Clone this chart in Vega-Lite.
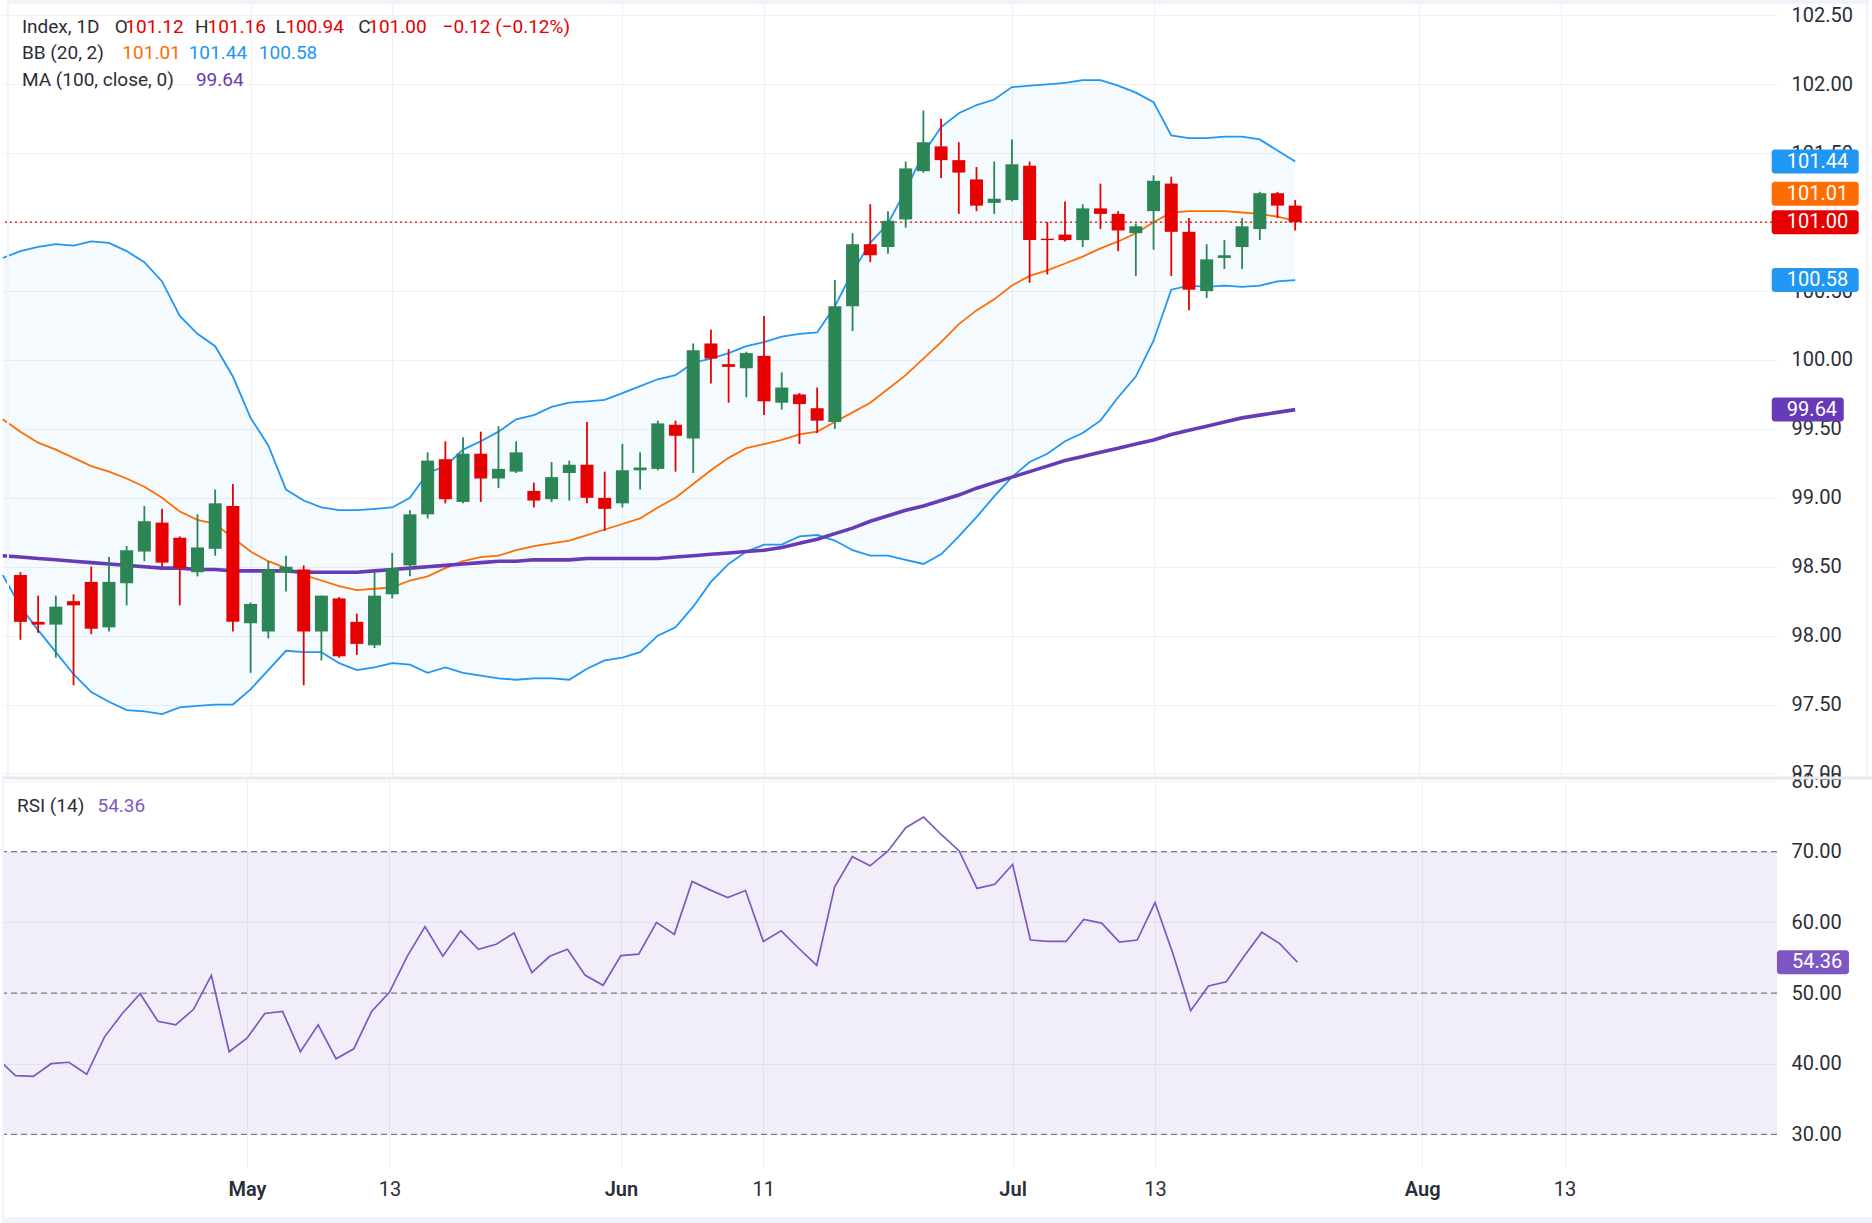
{
"$schema": "https://vega.github.io/schema/vega-lite/v6.json",
"background": "#ffffff",
"padding": 0,
"spacing": 0,
"bounds": "flush",
"config": {
  "view": {"stroke": null},
  "font": "Roboto",
  "axis": {"gridColor": "#eef0f4", "gridWidth": 1, "labelColor": "#2a2e39", "labelFont": "Roboto", "labelFontSize": 20, "ticks": false, "domain": false, "title": null, "labelOverlap": false, "labelFlush": false}
},
"datasets": {
  "bars": [
    {"i":0,"o":98.44,"h":98.46,"l":97.97,"c":98.10},
    {"i":1,"o":98.10,"h":98.29,"l":98.02,"c":98.08},
    {"i":2,"o":98.08,"h":98.29,"l":97.84,"c":98.21},
    {"i":3,"o":98.25,"h":98.30,"l":97.64,"c":98.22},
    {"i":4,"o":98.39,"h":98.50,"l":98.01,"c":98.05},
    {"i":5,"o":98.06,"h":98.57,"l":98.03,"c":98.39},
    {"i":6,"o":98.38,"h":98.65,"l":98.22,"c":98.62},
    {"i":7,"o":98.61,"h":98.94,"l":98.54,"c":98.83},
    {"i":8,"o":98.82,"h":98.92,"l":98.50,"c":98.53},
    {"i":9,"o":98.71,"h":98.72,"l":98.22,"c":98.49},
    {"i":10,"o":98.46,"h":98.88,"l":98.43,"c":98.64},
    {"i":11,"o":98.63,"h":99.06,"l":98.58,"c":98.96},
    {"i":12,"o":98.94,"h":99.10,"l":98.03,"c":98.10},
    {"i":13,"o":98.09,"h":98.24,"l":97.73,"c":98.23},
    {"i":14,"o":98.03,"h":98.54,"l":97.98,"c":98.48},
    {"i":15,"o":98.46,"h":98.58,"l":98.32,"c":98.50},
    {"i":16,"o":98.48,"h":98.51,"l":97.64,"c":98.03},
    {"i":17,"o":98.03,"h":98.29,"l":97.82,"c":98.29},
    {"i":18,"o":98.27,"h":98.28,"l":97.84,"c":97.85},
    {"i":19,"o":98.10,"h":98.16,"l":97.86,"c":97.94},
    {"i":20,"o":97.93,"h":98.46,"l":97.91,"c":98.29},
    {"i":21,"o":98.30,"h":98.60,"l":98.27,"c":98.49},
    {"i":22,"o":98.51,"h":98.91,"l":98.43,"c":98.88},
    {"i":23,"o":98.88,"h":99.33,"l":98.85,"c":99.27},
    {"i":24,"o":99.28,"h":99.41,"l":98.96,"c":98.99},
    {"i":25,"o":98.97,"h":99.44,"l":98.96,"c":99.32},
    {"i":26,"o":99.32,"h":99.48,"l":98.97,"c":99.14},
    {"i":27,"o":99.14,"h":99.52,"l":99.07,"c":99.21},
    {"i":28,"o":99.19,"h":99.41,"l":99.18,"c":99.33},
    {"i":29,"o":99.05,"h":99.11,"l":98.93,"c":98.98},
    {"i":30,"o":98.99,"h":99.26,"l":98.97,"c":99.15},
    {"i":31,"o":99.18,"h":99.27,"l":98.98,"c":99.24},
    {"i":32,"o":99.24,"h":99.55,"l":98.96,"c":99.00},
    {"i":33,"o":99.00,"h":99.19,"l":98.76,"c":98.92},
    {"i":34,"o":98.96,"h":99.39,"l":98.93,"c":99.20},
    {"i":35,"o":99.20,"h":99.33,"l":99.06,"c":99.22},
    {"i":36,"o":99.21,"h":99.56,"l":99.20,"c":99.54},
    {"i":37,"o":99.53,"h":99.56,"l":99.19,"c":99.45},
    {"i":38,"o":99.43,"h":100.12,"l":99.18,"c":100.07},
    {"i":39,"o":100.12,"h":100.22,"l":99.83,"c":100.01},
    {"i":40,"o":99.97,"h":100.08,"l":99.69,"c":99.95},
    {"i":41,"o":99.94,"h":100.06,"l":99.73,"c":100.05},
    {"i":42,"o":100.03,"h":100.32,"l":99.60,"c":99.70},
    {"i":43,"o":99.69,"h":99.91,"l":99.64,"c":99.80},
    {"i":44,"o":99.75,"h":99.76,"l":99.39,"c":99.68},
    {"i":45,"o":99.65,"h":99.80,"l":99.47,"c":99.56},
    {"i":46,"o":99.55,"h":100.58,"l":99.50,"c":100.39},
    {"i":47,"o":100.39,"h":100.92,"l":100.21,"c":100.84},
    {"i":48,"o":100.84,"h":101.13,"l":100.71,"c":100.76},
    {"i":49,"o":100.82,"h":101.08,"l":100.77,"c":101.01},
    {"i":50,"o":101.02,"h":101.44,"l":100.96,"c":101.39},
    {"i":51,"o":101.37,"h":101.81,"l":101.36,"c":101.58},
    {"i":52,"o":101.55,"h":101.75,"l":101.32,"c":101.45},
    {"i":53,"o":101.45,"h":101.58,"l":101.06,"c":101.36},
    {"i":54,"o":101.31,"h":101.40,"l":101.08,"c":101.12},
    {"i":55,"o":101.14,"h":101.44,"l":101.06,"c":101.17},
    {"i":56,"o":101.16,"h":101.60,"l":101.15,"c":101.42},
    {"i":57,"o":101.41,"h":101.44,"l":100.56,"c":100.87},
    {"i":58,"o":100.88,"h":101.00,"l":100.62,"c":100.87},
    {"i":59,"o":100.91,"h":101.15,"l":100.86,"c":100.87},
    {"i":60,"o":100.87,"h":101.13,"l":100.82,"c":101.10},
    {"i":61,"o":101.10,"h":101.28,"l":100.95,"c":101.06},
    {"i":62,"o":101.06,"h":101.08,"l":100.79,"c":100.94},
    {"i":63,"o":100.92,"h":100.99,"l":100.61,"c":100.97},
    {"i":64,"o":101.08,"h":101.34,"l":100.80,"c":101.30},
    {"i":65,"o":101.28,"h":101.33,"l":100.61,"c":100.93},
    {"i":66,"o":100.93,"h":101.03,"l":100.36,"c":100.51},
    {"i":67,"o":100.50,"h":100.84,"l":100.45,"c":100.73},
    {"i":68,"o":100.74,"h":100.87,"l":100.66,"c":100.76},
    {"i":69,"o":100.82,"h":101.03,"l":100.66,"c":100.97},
    {"i":70,"o":100.95,"h":101.22,"l":100.87,"c":101.21},
    {"i":71,"o":101.21,"h":101.22,"l":101.03,"c":101.12},
    {"i":72,"o":101.12,"h":101.16,"l":100.94,"c":101.00}
  ],
  "ind": [
    {"i":-1,"up":100.74,"mid":99.57,"lo":98.44,"ma":98.58,"rsi":40.7},
    {"i":0,"up":100.79,"mid":99.48,"lo":98.21,"ma":98.57,"rsi":38.3},
    {"i":1,"up":100.82,"mid":99.40,"lo":98.04,"ma":98.56,"rsi":38.2},
    {"i":2,"up":100.84,"mid":99.35,"lo":97.88,"ma":98.55,"rsi":40.0},
    {"i":3,"up":100.83,"mid":99.29,"lo":97.72,"ma":98.54,"rsi":40.2},
    {"i":4,"up":100.86,"mid":99.23,"lo":97.59,"ma":98.53,"rsi":38.5},
    {"i":5,"up":100.85,"mid":99.19,"lo":97.52,"ma":98.52,"rsi":43.8},
    {"i":6,"up":100.79,"mid":99.14,"lo":97.46,"ma":98.51,"rsi":47.1},
    {"i":7,"up":100.71,"mid":99.08,"lo":97.45,"ma":98.50,"rsi":49.9},
    {"i":8,"up":100.57,"mid":99.00,"lo":97.43,"ma":98.49,"rsi":46.0},
    {"i":9,"up":100.32,"mid":98.90,"lo":97.48,"ma":98.49,"rsi":45.5},
    {"i":10,"up":100.19,"mid":98.84,"lo":97.49,"ma":98.48,"rsi":47.7},
    {"i":11,"up":100.10,"mid":98.81,"lo":97.50,"ma":98.48,"rsi":52.5},
    {"i":12,"up":99.88,"mid":98.71,"lo":97.50,"ma":98.47,"rsi":41.7},
    {"i":13,"up":99.58,"mid":98.61,"lo":97.61,"ma":98.47,"rsi":43.6},
    {"i":14,"up":99.38,"mid":98.54,"lo":97.75,"ma":98.47,"rsi":47.1},
    {"i":15,"up":99.06,"mid":98.49,"lo":97.89,"ma":98.47,"rsi":47.4},
    {"i":16,"up":98.98,"mid":98.44,"lo":97.88,"ma":98.46,"rsi":41.7},
    {"i":17,"up":98.93,"mid":98.40,"lo":97.88,"ma":98.46,"rsi":45.5},
    {"i":18,"up":98.91,"mid":98.36,"lo":97.80,"ma":98.46,"rsi":40.7},
    {"i":19,"up":98.91,"mid":98.33,"lo":97.75,"ma":98.46,"rsi":42.1},
    {"i":20,"up":98.92,"mid":98.34,"lo":97.77,"ma":98.47,"rsi":47.4},
    {"i":21,"up":98.93,"mid":98.35,"lo":97.80,"ma":98.48,"rsi":50.1},
    {"i":22,"up":99.00,"mid":98.40,"lo":97.79,"ma":98.49,"rsi":55.2},
    {"i":23,"up":99.18,"mid":98.43,"lo":97.73,"ma":98.50,"rsi":59.4},
    {"i":24,"up":99.23,"mid":98.49,"lo":97.77,"ma":98.51,"rsi":55.2},
    {"i":25,"up":99.35,"mid":98.54,"lo":97.73,"ma":98.52,"rsi":58.8},
    {"i":26,"up":99.41,"mid":98.57,"lo":97.71,"ma":98.53,"rsi":56.2},
    {"i":27,"up":99.48,"mid":98.58,"lo":97.69,"ma":98.54,"rsi":56.9},
    {"i":28,"up":99.57,"mid":98.62,"lo":97.68,"ma":98.54,"rsi":58.5},
    {"i":29,"up":99.60,"mid":98.65,"lo":97.69,"ma":98.55,"rsi":52.9},
    {"i":30,"up":99.66,"mid":98.67,"lo":97.69,"ma":98.55,"rsi":55.2},
    {"i":31,"up":99.69,"mid":98.69,"lo":97.68,"ma":98.55,"rsi":56.2},
    {"i":32,"up":99.70,"mid":98.73,"lo":97.76,"ma":98.56,"rsi":52.5},
    {"i":33,"up":99.71,"mid":98.77,"lo":97.82,"ma":98.56,"rsi":51.1},
    {"i":34,"up":99.76,"mid":98.81,"lo":97.84,"ma":98.56,"rsi":55.3},
    {"i":35,"up":99.81,"mid":98.85,"lo":97.88,"ma":98.56,"rsi":55.5},
    {"i":36,"up":99.86,"mid":98.93,"lo":98.00,"ma":98.56,"rsi":60.0},
    {"i":37,"up":99.89,"mid":99.00,"lo":98.06,"ma":98.57,"rsi":58.3},
    {"i":38,"up":99.98,"mid":99.10,"lo":98.21,"ma":98.58,"rsi":65.8},
    {"i":39,"up":100.01,"mid":99.20,"lo":98.39,"ma":98.59,"rsi":64.6},
    {"i":40,"up":100.05,"mid":99.29,"lo":98.52,"ma":98.60,"rsi":63.5},
    {"i":41,"up":100.10,"mid":99.36,"lo":98.61,"ma":98.61,"rsi":64.5},
    {"i":42,"up":100.13,"mid":99.39,"lo":98.66,"ma":98.62,"rsi":57.3},
    {"i":43,"up":100.17,"mid":99.42,"lo":98.66,"ma":98.64,"rsi":58.8},
    {"i":44,"up":100.19,"mid":99.46,"lo":98.72,"ma":98.67,"rsi":56.3},
    {"i":45,"up":100.20,"mid":99.48,"lo":98.73,"ma":98.70,"rsi":53.9},
    {"i":46,"up":100.39,"mid":99.55,"lo":98.69,"ma":98.74,"rsi":65.0},
    {"i":47,"up":100.64,"mid":99.62,"lo":98.62,"ma":98.78,"rsi":69.3},
    {"i":48,"up":100.85,"mid":99.69,"lo":98.58,"ma":98.83,"rsi":68.0},
    {"i":49,"up":100.99,"mid":99.79,"lo":98.58,"ma":98.87,"rsi":70.1},
    {"i":50,"up":101.23,"mid":99.89,"lo":98.55,"ma":98.91,"rsi":73.4},
    {"i":51,"up":101.50,"mid":100.01,"lo":98.52,"ma":98.94,"rsi":74.9},
    {"i":52,"up":101.69,"mid":100.13,"lo":98.59,"ma":98.98,"rsi":72.4},
    {"i":53,"up":101.79,"mid":100.26,"lo":98.72,"ma":99.02,"rsi":70.1},
    {"i":54,"up":101.85,"mid":100.36,"lo":98.86,"ma":99.07,"rsi":64.8},
    {"i":55,"up":101.89,"mid":100.44,"lo":99.01,"ma":99.11,"rsi":65.4},
    {"i":56,"up":101.98,"mid":100.54,"lo":99.15,"ma":99.15,"rsi":68.2},
    {"i":57,"up":101.99,"mid":100.61,"lo":99.26,"ma":99.19,"rsi":57.5},
    {"i":58,"up":102.00,"mid":100.65,"lo":99.32,"ma":99.23,"rsi":57.3},
    {"i":59,"up":102.01,"mid":100.70,"lo":99.41,"ma":99.27,"rsi":57.3},
    {"i":60,"up":102.03,"mid":100.75,"lo":99.47,"ma":99.30,"rsi":60.4},
    {"i":61,"up":102.03,"mid":100.81,"lo":99.56,"ma":99.33,"rsi":59.9},
    {"i":62,"up":101.99,"mid":100.86,"lo":99.73,"ma":99.36,"rsi":57.2},
    {"i":63,"up":101.94,"mid":100.92,"lo":99.88,"ma":99.39,"rsi":57.5},
    {"i":64,"up":101.87,"mid":101.00,"lo":100.14,"ma":99.42,"rsi":62.8},
    {"i":65,"up":101.63,"mid":101.07,"lo":100.51,"ma":99.46,"rsi":55.6},
    {"i":66,"up":101.61,"mid":101.08,"lo":100.54,"ma":99.49,"rsi":47.5},
    {"i":67,"up":101.61,"mid":101.08,"lo":100.53,"ma":99.52,"rsi":51.0},
    {"i":68,"up":101.62,"mid":101.08,"lo":100.54,"ma":99.55,"rsi":51.6},
    {"i":69,"up":101.62,"mid":101.07,"lo":100.53,"ma":99.58,"rsi":55.2},
    {"i":70,"up":101.60,"mid":101.06,"lo":100.54,"ma":99.60,"rsi":58.6},
    {"i":71,"up":101.52,"mid":101.04,"lo":100.57,"ma":99.62,"rsi":57.0},
    {"i":72,"up":101.44,"mid":101.01,"lo":100.58,"ma":99.64,"rsi":54.36}
  ],
  "levels": [{"lv":70},{"lv":50},{"lv":30}]
},
"vconcat": [
  {
    "width": 1775, "height": 778,
    "data": {"values": [{}]},
    "layer": [
      {"data": {"name": "ind"}, "mark": {"type": "area", "color": "#2196F3", "opacity": 0.05, "clip": true},
       "encoding": {
         "x": {"field": "i", "type": "quantitative", "scale": {"domain": [-0.758, 98.93], "nice": false, "zero": false},
               "axis": {"values": [13,21,34,42,56,64,79,87], "labels": false, "grid": true}},
         "y": {"field": "up", "type": "quantitative", "scale": {"domain": [96.967, 102.612], "nice": false, "zero": false},
               "axis": {"orient": "right", "values": [97,97.5,98,98.5,99,99.5,100,100.5,101,101.5,102,102.5], "format": ".2f", "grid": true, "labelAlign": "left", "labelPadding": 14,
                        "labelExpr": "datum.value == 101 ? '' : datum.label"}},
         "y2": {"field": "lo"}}},
      {"data": {"name": "ind"}, "mark": {"type": "line", "color": "#2196F3", "strokeWidth": 1.8, "clip": true},
       "encoding": {"x": {"field": "i", "type": "quantitative"}, "y": {"field": "up", "type": "quantitative"}}},
      {"data": {"name": "ind"}, "mark": {"type": "line", "color": "#2196F3", "strokeWidth": 1.8, "clip": true},
       "encoding": {"x": {"field": "i", "type": "quantitative"}, "y": {"field": "lo", "type": "quantitative"}}},
      {"data": {"name": "ind"}, "mark": {"type": "line", "color": "#FF6D00", "strokeWidth": 1.8, "clip": true},
       "encoding": {"x": {"field": "i", "type": "quantitative"}, "y": {"field": "mid", "type": "quantitative"}}},
      {"data": {"name": "ind"}, "mark": {"type": "line", "color": "#673AB7", "strokeWidth": 3.6, "clip": true},
       "encoding": {"x": {"field": "i", "type": "quantitative"}, "y": {"field": "ma", "type": "quantitative"}}},
      {"mark": {"type": "rule", "color": "#E60000", "strokeDash": [2, 3], "strokeWidth": 1.4},
       "encoding": {"y": {"datum": 101.0, "type": "quantitative"}}},
      {"data": {"name": "bars"}, "mark": {"type": "rule", "strokeWidth": 1.8},
       "encoding": {"x": {"field": "i", "type": "quantitative"}, "y": {"field": "l", "type": "quantitative"}, "y2": {"field": "h"},
         "color": {"condition": {"test": "datum.c >= datum.o", "value": "#2C8554"}, "value": "#E60000"}}},
      {"data": {"name": "bars"}, "mark": {"type": "bar", "width": 13, "minBandSize": 2},
       "encoding": {"x": {"field": "i", "type": "quantitative"}, "y": {"field": "o", "type": "quantitative"}, "y2": {"field": "c"},
         "color": {"condition": {"test": "datum.c >= datum.o", "value": "#2C8554"}, "value": "#E60000"}}},

      {"mark": {"type": "text", "text": "Index, 1D", "align": "left", "baseline": "alphabetic", "fontSize": 19, "color": "#2a2e39"},
       "encoding": {"x": {"datum": 0.084, "type": "quantitative"}, "y": {"datum": 102.370, "type": "quantitative"}}},
      {"mark": {"type": "text", "text": "O", "align": "left", "baseline": "alphabetic", "fontSize": 19, "color": "#2a2e39"},
       "encoding": {"x": {"datum": 5.324, "type": "quantitative"}, "y": {"datum": 102.370, "type": "quantitative"}}},
      {"mark": {"type": "text", "text": "101.12", "align": "left", "baseline": "alphabetic", "fontSize": 19, "color": "#E60000"},
       "encoding": {"x": {"datum": 5.925, "type": "quantitative"}, "y": {"datum": 102.370, "type": "quantitative"}}},
      {"mark": {"type": "text", "text": "H", "align": "left", "baseline": "alphabetic", "fontSize": 19, "color": "#2a2e39"},
       "encoding": {"x": {"datum": 9.856, "type": "quantitative"}, "y": {"datum": 102.370, "type": "quantitative"}}},
      {"mark": {"type": "text", "text": "101.16", "align": "left", "baseline": "alphabetic", "fontSize": 19, "color": "#E60000"},
       "encoding": {"x": {"datum": 10.570, "type": "quantitative"}, "y": {"datum": 102.370, "type": "quantitative"}}},
      {"mark": {"type": "text", "text": "L", "align": "left", "baseline": "alphabetic", "fontSize": 19, "color": "#2a2e39"},
       "encoding": {"x": {"datum": 14.405, "type": "quantitative"}, "y": {"datum": 102.370, "type": "quantitative"}}},
      {"mark": {"type": "text", "text": "100.94", "align": "left", "baseline": "alphabetic", "fontSize": 19, "color": "#E60000"},
       "encoding": {"x": {"datum": 14.967, "type": "quantitative"}, "y": {"datum": 102.370, "type": "quantitative"}}},
      {"mark": {"type": "text", "text": "C", "align": "left", "baseline": "alphabetic", "fontSize": 19, "color": "#2a2e39"},
       "encoding": {"x": {"datum": 19.083, "type": "quantitative"}, "y": {"datum": 102.370, "type": "quantitative"}}},
      {"mark": {"type": "text", "text": "101.00", "align": "left", "baseline": "alphabetic", "fontSize": 19, "color": "#E60000"},
       "encoding": {"x": {"datum": 19.645, "type": "quantitative"}, "y": {"datum": 102.370, "type": "quantitative"}}},
      {"mark": {"type": "text", "text": "\u22120.12 (\u22120.12%)", "align": "left", "baseline": "alphabetic", "fontSize": 19, "color": "#E60000"},
       "encoding": {"x": {"datum": 23.840, "type": "quantitative"}, "y": {"datum": 102.370, "type": "quantitative"}}},

      {"mark": {"type": "text", "text": "BB (20, 2)", "align": "left", "baseline": "alphabetic", "fontSize": 19, "color": "#2a2e39"},
       "encoding": {"x": {"datum": 0.084, "type": "quantitative"}, "y": {"datum": 102.182, "type": "quantitative"}}},
      {"mark": {"type": "text", "text": "101.01", "align": "left", "baseline": "alphabetic", "fontSize": 19, "color": "#FF6D00"},
       "encoding": {"x": {"datum": 5.757, "type": "quantitative"}, "y": {"datum": 102.182, "type": "quantitative"}}},
      {"mark": {"type": "text", "text": "101.44", "align": "left", "baseline": "alphabetic", "fontSize": 19, "color": "#2196F3"},
       "encoding": {"x": {"datum": 9.503, "type": "quantitative"}, "y": {"datum": 102.182, "type": "quantitative"}}},
      {"mark": {"type": "text", "text": "100.58", "align": "left", "baseline": "alphabetic", "fontSize": 19, "color": "#2196F3"},
       "encoding": {"x": {"datum": 13.467, "type": "quantitative"}, "y": {"datum": 102.182, "type": "quantitative"}}},

      {"mark": {"type": "text", "text": "MA (100, close, 0)", "align": "left", "baseline": "alphabetic", "fontSize": 19, "color": "#2a2e39"},
       "encoding": {"x": {"datum": 0.084, "type": "quantitative"}, "y": {"datum": 101.988, "type": "quantitative"}}},
      {"mark": {"type": "text", "text": "99.64", "align": "left", "baseline": "alphabetic", "fontSize": 19, "color": "#673AB7"},
       "encoding": {"x": {"datum": 9.912, "type": "quantitative"}, "y": {"datum": 101.988, "type": "quantitative"}}},

      {"data": {"name": "ind"}, "transform": [{"filter": "datum.i == 72"}],
       "mark": {"type": "tick", "orient": "horizontal", "size": 87, "thickness": 24, "cornerRadius": 3, "opacity": 1, "color": "#2196F3", "clip": false},
       "encoding": {"x": {"datum": 101.37, "type": "quantitative"}, "y": {"field": "up", "type": "quantitative"}}},
      {"data": {"name": "ind"}, "transform": [{"filter": "datum.i == 72"}],
       "mark": {"type": "tick", "orient": "horizontal", "size": 87, "thickness": 24, "cornerRadius": 3, "opacity": 1, "color": "#2196F3", "clip": false},
       "encoding": {"x": {"datum": 101.37, "type": "quantitative"}, "y": {"field": "lo", "type": "quantitative"}}},
      {"data": {"name": "ind"}, "transform": [{"filter": "datum.i == 72"}],
       "mark": {"type": "tick", "orient": "horizontal", "size": 87, "thickness": 24, "cornerRadius": 3, "opacity": 1, "color": "#FF6D00", "yOffset": -27, "clip": false},
       "encoding": {"x": {"datum": 101.37, "type": "quantitative"}, "y": {"field": "mid", "type": "quantitative"}}},
      {"data": {"name": "bars"}, "transform": [{"filter": "datum.i == 72"}],
       "mark": {"type": "tick", "orient": "horizontal", "size": 87, "thickness": 24, "cornerRadius": 3, "opacity": 1, "color": "#E60000", "clip": false},
       "encoding": {"x": {"datum": 101.37, "type": "quantitative"}, "y": {"field": "c", "type": "quantitative"}}},
      {"data": {"name": "ind"}, "transform": [{"filter": "datum.i == 72"}],
       "mark": {"type": "tick", "orient": "horizontal", "size": 72, "thickness": 24, "cornerRadius": 3, "opacity": 1, "color": "#673AB7", "clip": false},
       "encoding": {"x": {"datum": 100.95, "type": "quantitative"}, "y": {"field": "ma", "type": "quantitative"}}},

      {"data": {"name": "ind"}, "transform": [{"filter": "datum.i == 72"}],
       "mark": {"type": "text", "align": "left", "baseline": "middle", "fontSize": 20, "color": "#ffffff", "clip": false},
       "encoding": {"x": {"datum": 99.77, "type": "quantitative"}, "y": {"field": "up", "type": "quantitative"}, "text": {"field": "up", "type": "quantitative", "format": ".2f"}}},
      {"data": {"name": "ind"}, "transform": [{"filter": "datum.i == 72"}],
       "mark": {"type": "text", "align": "left", "baseline": "middle", "fontSize": 20, "color": "#ffffff", "clip": false},
       "encoding": {"x": {"datum": 99.77, "type": "quantitative"}, "y": {"field": "lo", "type": "quantitative"}, "text": {"field": "lo", "type": "quantitative", "format": ".2f"}}},
      {"data": {"name": "ind"}, "transform": [{"filter": "datum.i == 72"}],
       "mark": {"type": "text", "align": "left", "baseline": "middle", "fontSize": 20, "color": "#ffffff", "yOffset": -27, "clip": false},
       "encoding": {"x": {"datum": 99.77, "type": "quantitative"}, "y": {"field": "mid", "type": "quantitative"}, "text": {"field": "mid", "type": "quantitative", "format": ".2f"}}},
      {"data": {"name": "bars"}, "transform": [{"filter": "datum.i == 72"}],
       "mark": {"type": "text", "align": "left", "baseline": "middle", "fontSize": 20, "color": "#ffffff", "clip": false},
       "encoding": {"x": {"datum": 99.77, "type": "quantitative"}, "y": {"field": "c", "type": "quantitative"}, "text": {"field": "c", "type": "quantitative", "format": ".2f"}}},
      {"data": {"name": "ind"}, "transform": [{"filter": "datum.i == 72"}],
       "mark": {"type": "text", "align": "left", "baseline": "middle", "fontSize": 20, "color": "#ffffff", "clip": false},
       "encoding": {"x": {"datum": 99.77, "type": "quantitative"}, "y": {"field": "ma", "type": "quantitative"}, "text": {"field": "ma", "type": "quantitative", "format": ".2f"}}},

      {"mark": {"type": "rect", "color": "#f0f3fa", "clip": false},
       "encoding": {"x": {"datum": -0.758, "type": "quantitative"}, "x2": {"datum": 104.37}, "y": {"datum": 102.612, "type": "quantitative"}, "y2": {"datum": 102.583}}},
      {"mark": {"type": "rect", "color": "#f0f3fa", "clip": false},
       "encoding": {"x": {"datum": -0.758, "type": "quantitative"}, "x2": {"datum": -0.646}, "y": {"datum": 102.612, "type": "quantitative"}, "y2": {"datum": 96.967}}},
      {"mark": {"type": "rect", "color": "#f0f3fa", "clip": false},
       "encoding": {"x": {"datum": 104.26, "type": "quantitative"}, "x2": {"datum": 104.37}, "y": {"datum": 102.612, "type": "quantitative"}, "y2": {"datum": 96.967}}}
    ]
  },
  {
    "width": 1775, "height": 389,
    "data": {"values": [{}]},
    "layer": [
      {"mark": {"type": "rect", "color": "#7E57C2", "opacity": 0.1},
       "encoding": {
         "x": {"datum": -0.758, "type": "quantitative", "scale": {"domain": [-0.758, 98.93], "nice": false, "zero": false},
               "axis": {"values": [13,21,34,42,56,64,79,87], "grid": true, "labelPadding": 12,
                        "labelExpr": "datum.value == 13 ? 'May' : datum.value == 34 ? 'Jun' : datum.value == 56 ? 'Jul' : datum.value == 79 ? 'Aug' : datum.value == 42 ? '11' : '13'",
                        "labelFontWeight": {"condition": {"test": "datum.value == 13 || datum.value == 34 || datum.value == 56 || datum.value == 79", "value": 600}, "value": 400}}},
         "x2": {"datum": 98.93},
         "y": {"datum": 70, "type": "quantitative", "scale": {"domain": [25.38, 80.43], "nice": false, "zero": false},
               "axis": {"orient": "right", "values": [30,40,50,60,70,80], "format": ".2f", "grid": true, "labelAlign": "left", "labelPadding": 14}},
         "y2": {"datum": 30}}},
      {"data": {"name": "levels"}, "mark": {"type": "rule", "color": "#787B86", "strokeDash": [6, 4], "strokeWidth": 1.2},
       "encoding": {"y": {"field": "lv", "type": "quantitative"}}},
      {"data": {"name": "ind"}, "mark": {"type": "line", "color": "#7E57C2", "strokeWidth": 1.7, "clip": true},
       "encoding": {"x": {"field": "i", "type": "quantitative"}, "y": {"field": "rsi", "type": "quantitative"}}},
      {"mark": {"type": "rule", "color": "#e6e9f0", "strokeWidth": 3, "clip": false},
       "encoding": {"x": {"datum": -0.758, "type": "quantitative"}, "x2": {"datum": 104.37}, "y": {"datum": 80.43, "type": "quantitative"}}},
      {"mark": {"type": "text", "text": "RSI (14)", "align": "left", "baseline": "alphabetic", "fontSize": 19, "color": "#2a2e39"},
       "encoding": {"x": {"datum": 0.084, "type": "quantitative"}, "y": {"datum": 75.66, "type": "quantitative"}}},
      {"mark": {"type": "text", "text": "54.36", "align": "left", "baseline": "alphabetic", "fontSize": 19, "color": "#7E57C2"},
       "encoding": {"x": {"datum": 4.605, "type": "quantitative"}, "y": {"datum": 75.66, "type": "quantitative"}}},
      {"data": {"name": "ind"}, "transform": [{"filter": "datum.i == 72"}],
       "mark": {"type": "tick", "orient": "horizontal", "size": 72, "thickness": 24, "cornerRadius": 3, "opacity": 1, "color": "#7E57C2", "clip": false},
       "encoding": {"x": {"datum": 100.95, "type": "quantitative"}, "y": {"field": "rsi", "type": "quantitative"}}},
      {"data": {"name": "ind"}, "transform": [{"filter": "datum.i == 72"}],
       "mark": {"type": "text", "align": "left", "baseline": "middle", "fontSize": 20, "color": "#ffffff", "clip": false},
       "encoding": {"x": {"datum": 99.77, "type": "quantitative"}, "y": {"field": "rsi", "type": "quantitative"}, "text": {"field": "rsi", "type": "quantitative", "format": ".2f"}}},
      {"mark": {"type": "rect", "color": "#f0f3fa", "clip": false},
       "encoding": {"x": {"datum": -0.758, "type": "quantitative"}, "x2": {"datum": 104.37}, "y": {"datum": 18.30, "type": "quantitative"}, "y2": {"datum": 17.45}}},
      {"mark": {"type": "rect", "color": "#f0f3fa", "clip": false},
       "encoding": {"x": {"datum": -0.758, "type": "quantitative"}, "x2": {"datum": -0.646}, "y": {"datum": 80.43, "type": "quantitative"}, "y2": {"datum": 17.45}}},
      {"mark": {"type": "rect", "color": "#f0f3fa", "clip": false},
       "encoding": {"x": {"datum": 104.26, "type": "quantitative"}, "x2": {"datum": 104.37}, "y": {"datum": 80.43, "type": "quantitative"}, "y2": {"datum": 17.45}}}
    ]
  }
]
}
